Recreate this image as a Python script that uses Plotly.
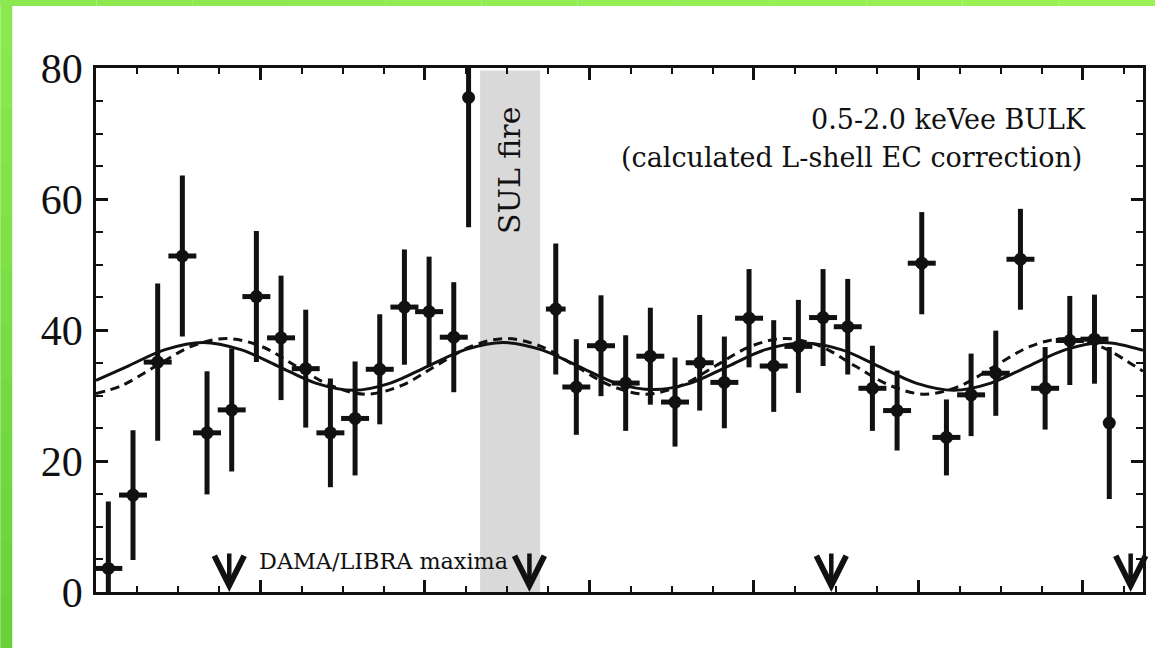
import plotly.graph_objects as go

# ---- data: 0.5-2.0 keVee bulk rate per time bin -------------------------
bin_day = [15, 45, 75, 105, 135, 165, 195, 225, 255, 285, 315, 345, 375, 405, 435, 453,
           559, 584, 614, 644, 674, 704, 734, 764, 794, 824, 854, 884, 914, 944, 974,
           1004, 1034, 1064, 1094, 1124, 1154, 1184, 1214, 1232]
rate = [3.6, 14.8, 35.1, 51.3, 24.3, 27.8, 45.1, 38.8, 34.1, 24.3, 26.5, 34.0, 43.5, 42.8, 38.9, 75.5,
        43.2, 31.3, 37.6, 31.9, 36.0, 29.0, 35.0, 32.0, 41.8, 34.5, 37.5, 41.9, 40.5, 31.1, 27.7,
        50.2, 23.6, 30.1, 33.4, 50.8, 31.1, 38.4, 38.6, 25.8]
rate_err = [10.2, 9.9, 12.0, 12.3, 9.4, 9.4, 10.0, 9.5, 9.0, 8.3, 8.7, 8.4, 8.8, 8.4, 8.4, 19.8,
            10.0, 7.3, 7.7, 7.3, 7.4, 6.8, 7.3, 7.0, 7.5, 7.0, 7.1, 7.4, 7.3, 6.5, 6.1,
            7.8, 5.8, 6.3, 6.5, 7.7, 6.3, 6.8, 6.8, 11.6]
bin_half = [17] * 15 + [0] + [12] + [17] * 22 + [0]

# modulation fits (solid: free phase, dashed: alternative fit)
fit_solid_day = [0, 39, 84, 130, 176, 221, 267, 313, 358, 404, 449, 495, 541, 586, 632, 678,
                 723, 769, 814, 860, 906, 951, 997, 1043, 1088, 1134, 1179, 1225, 1273]
fit_solid = [32.3, 34.5, 37.0, 38.1, 37.0, 34.5, 31.9, 30.8, 31.9, 34.5, 37.0, 38.1, 37.0, 34.5, 31.9, 30.9,
             31.9, 34.5, 37.0, 38.0, 37.0, 34.5, 31.9, 30.8, 31.9, 34.5, 37.0, 38.1, 36.9]
fit_dash_day = [0, 31, 73, 116, 158, 201, 243, 286, 328, 371, 413, 456, 498, 541, 583, 626,
                668, 711, 753, 796, 838, 881, 923, 966, 1008, 1051, 1093, 1136, 1178, 1221, 1263, 1273]
fit_dash = [30.3, 31.5, 34.5, 37.5, 38.7, 37.5, 34.5, 31.5, 30.2, 31.5, 34.5, 37.5, 38.7, 37.5, 34.5, 31.5,
            30.2, 31.5, 34.5, 37.5, 38.7, 37.5, 34.5, 31.5, 30.2, 31.5, 34.5, 37.5, 38.7, 37.5, 34.5, 33.7]

dama_max_day = [162, 527, 894, 1258]
fire_start, fire_end = 467, 540

X_RANGE = [0, 1273]
Y_RANGE = [0, 80]

# ---- layout geometry ------------------------------------------------------
W, H = 1158, 648
ML, MR, MT, MB = 96, 12, 68, 56
PW, PH = W - ML - MR, H - MT - MB


def px_x(p):
    return (p - ML) / PW


def px_y(p):
    return (H - MB - p) / PH


SERIF = "DejaVu Serif"
INK = "#111111"

fig = go.Figure()

fig.add_trace(go.Scatter(
    x=fit_dash_day, y=fit_dash, mode="lines",
    line=dict(color=INK, width=3, dash="9px,6px", shape="spline", smoothing=1.0),
    hoverinfo="skip", showlegend=False))
fig.add_trace(go.Scatter(
    x=fit_solid_day, y=fit_solid, mode="lines",
    line=dict(color=INK, width=3, shape="spline", smoothing=1.0),
    hoverinfo="skip", showlegend=False))
fig.add_trace(go.Scatter(
    x=bin_day, y=rate, mode="markers",
    marker=dict(color=INK, size=13),
    error_y=dict(type="data", array=rate_err, thickness=5, width=0, color=INK),
    error_x=dict(type="data", array=bin_half, thickness=5, width=0, color=INK),
    showlegend=False))

shapes = [dict(type="rect", xref="x", yref="y", x0=fire_start, x1=fire_end,
               y0=0, y1=79.6, fillcolor="#d9d9d9", line=dict(width=0), layer="below")]

# green frame strips along left and top edges
n = 12
for i in range(n):
    t = i / (n - 1)
    g = (int(140 - 35 * t), int(232 - 22 * t), int(80 - 22 * t))
    shapes.append(dict(type="rect", xref="paper", yref="paper",
                       x0=px_x(0), x1=px_x(12),
                       y0=px_y(H * (i + 1) / n), y1=px_y(H * i / n),
                       fillcolor="rgb(%d,%d,%d)" % g, line=dict(width=0), layer="above"))
for i in range(n):
    t = i / (n - 1)
    g = (int(140 + 15 * t), int(232 + 10 * t), int(80 + 5 * t))
    shapes.append(dict(type="rect", xref="paper", yref="paper",
                       x0=px_x(W * i / n), x1=px_x(W * (i + 1) / n),
                       y0=px_y(6), y1=px_y(0),
                       fillcolor="rgb(%d,%d,%d)" % g, line=dict(width=0), layer="above"))

annotations = [
    dict(x=1206, y=72.1, xref="x", yref="y", xanchor="right", yanchor="middle",
         text="0.5-2.0 keVee BULK", showarrow=False,
         font=dict(family=SERIF, size=27, color=INK)),
    dict(x=1201, y=66.4, xref="x", yref="y", xanchor="right", yanchor="middle",
         text="(calculated L-shell EC correction)", showarrow=False,
         font=dict(family=SERIF, size=27, color=INK)),
    dict(x=(fire_start + fire_end) / 2, y=64.3, xref="x", yref="y",
         xanchor="center", yanchor="middle", textangle=-90,
         text="SUL fire", showarrow=False,
         font=dict(family=SERIF, size=30, color=INK)),
    dict(x=196, y=4.7, xref="x", yref="y", xanchor="left", yanchor="middle",
         text="DAMA/LIBRA maxima", showarrow=False,
         font=dict(family=SERIF, size=22.3, color=INK)),
]
for d in dama_max_day:
    annotations.append(dict(x=d, y=0, xref="x", yref="y", ax=0, ay=-40,
                            text="", showarrow=True, arrowhead=5, arrowsize=1.3,
                            arrowwidth=4.5, arrowcolor=INK, standoff=0))

axis_common = dict(showgrid=False, zeroline=False, showline=True, linecolor=INK,
                   linewidth=2.5, mirror="ticks", ticks="inside", tickcolor=INK,
                   tickwidth=2.5, ticklen=12)

fig.update_layout(
    width=W, height=H, autosize=False,
    margin=dict(l=ML, r=MR, t=MT, b=MB, pad=0),
    paper_bgcolor="white", plot_bgcolor="white",
    xaxis=dict(range=X_RANGE, tick0=0, dtick=200, showticklabels=False,
               minor=dict(dtick=50, ticks="inside", ticklen=6, tickwidth=2, tickcolor=INK),
               **axis_common),
    yaxis=dict(range=Y_RANGE, tick0=0, dtick=20, ticklabelstandoff=2,
               tickfont=dict(family="Liberation Serif", size=42, color=INK),
               minor=dict(dtick=5, ticks="inside", ticklen=7, tickwidth=2, tickcolor=INK),
               **axis_common),
    shapes=shapes,
    annotations=annotations,
    showlegend=False,
)

fig.write_html("out.html")
